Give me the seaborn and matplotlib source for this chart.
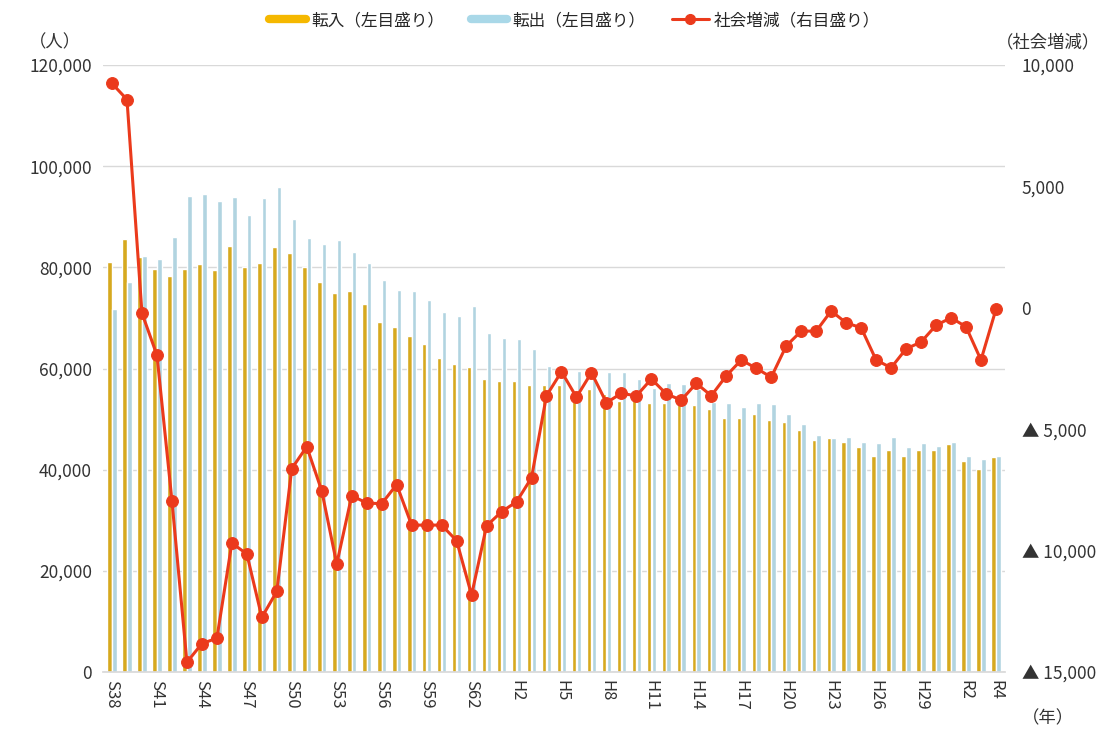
import numpy as np
import pandas as pd
import matplotlib
matplotlib.use("Agg")
import matplotlib.pyplot as plt
from matplotlib.lines import Line2D
from matplotlib.ticker import FuncFormatter
import seaborn as sns

# 年度ラベル (S38 = 1963 ... R4 = 2022)
years = (["S%d" % n for n in range(38, 64)]
         + ["H%d" % n for n in range(1, 31)]
         + ["R%d" % n for n in range(1, 5)])

shown_ticks = ["S38", "S41", "S44", "S47", "S50", "S53", "S56", "S59", "S62",
               "H2", "H5", "H8", "H11", "H14", "H17", "H20", "H23", "H26",
               "H29", "R2", "R4"]

# 転入 (左目盛り)
transfer_in = [81100, 85600, 82000, 79700, 78300, 79700, 80700, 79400, 84200, 80100,
               80900, 84100, 82900, 80100, 77100, 74900, 75300, 72700, 69200, 68200,
               66400, 64800, 62100, 60800, 60200, 58000, 57600, 57600, 56700, 56700,
               56700, 55500, 55900, 55000, 53600, 53800, 53200, 53200, 52900, 52800,
               51900, 50200, 50200, 51000, 49900, 49400, 47800, 45900, 46200, 45500,
               44500, 42800, 43900, 42800, 43800, 43800, 45000, 41800, 40100, 42600]

# 転出 (左目盛り)
transfer_out = [71800, 77100, 82300, 81700, 86000, 94200, 94600, 93200, 94000, 90400,
                93700, 95800, 89500, 85900, 84600, 85500, 83000, 80900, 77500, 75500,
                75300, 73600, 71200, 70400, 72400, 67100, 66000, 65800, 63900, 60400,
                59400, 59500, 58600, 59300, 59400, 57900, 56200, 57100, 57000, 55900,
                53400, 53200, 52400, 53200, 53000, 51000, 49000, 46900, 46200, 46500,
                45500, 45200, 46500, 44400, 45300, 44700, 45400, 42700, 42200, 42700]

# 社会増減 (右目盛り)
social = [9240, 8580, -220, -1950, -7940, -14600, -13830, -13610, -9690, -10140,
          -12750, -11680, -6620, -5720, -7540, -10550, -7740, -8040, -8070, -7280,
          -8950, -8950, -8950, -9590, -11830, -8980, -8400, -7990, -7000, -3620,
          -2630, -3680, -2670, -3910, -3520, -3630, -2930, -3550, -3800, -3110,
          -3620, -2800, -2150, -2490, -2860, -1570, -960, -960, -130, -620,
          -820, -2150, -2470, -1690, -1410, -720, -410, -780, -2150, -60]

YELLOW = "#F5B800"
BLUE = "#A9D8E8"
RED = "#EB3A1C"

bars = pd.DataFrame({
    "year": years * 2,
    "kind": ["転入"] * len(years) + ["転出"] * len(years),
    "value": transfer_in + transfer_out,
})

sns.set_theme(style="white")
plt.rcParams["font.family"] = ["Noto Sans CJK JP", "DejaVu Sans"]

fig = plt.figure(figsize=(11.16, 7.34), dpi=100)
ax = fig.add_axes([0.0923, 0.0845, 0.8082, 0.8269])

sns.barplot(
    data=bars, x="year", y="value", hue="kind",
    order=years, hue_order=["転入", "転出"],
    palette=[YELLOW, BLUE], width=0.64, gap=0.06,
    errorbar=None, legend=False, ax=ax, zorder=2
)

ax.set_ylim(0, 120000)
ax.set_yticks(range(0, 120001, 20000))
ax.yaxis.set_major_formatter(FuncFormatter(lambda v, p: f"{int(v):,}"))
ax.yaxis.grid(True, color="#d9d9d9", linewidth=1)
ax.set_axisbelow(True)
ax.set_xlabel("")
ax.set_ylabel("")
ax.set_xticks(range(len(years)))
ax.set_xticklabels([y if y in shown_ticks else "" for y in years],
                   rotation=270, fontsize=12, color="#333333")
ax.tick_params(axis="y", labelsize=12.5, colors="#333333", length=0, pad=8)
ax.tick_params(axis="x", length=0, pad=6)
for s in ["top", "right", "left"]:
    ax.spines[s].set_visible(False)
ax.spines["bottom"].set_color("#d9d9d9")

# 右軸: 社会増減
ax2 = ax.twinx()
sns.lineplot(x=np.arange(len(years)), y=social, ax=ax2, color=RED,
             linewidth=2.2, marker="o", markersize=8.5,
             markeredgecolor=RED, markerfacecolor=RED)
ax2.set_ylim(-15000, 10000)
ax2.set_yticks(range(-15000, 10001, 5000))
ax2.yaxis.set_major_formatter(
    FuncFormatter(lambda v, p: f"▲ {abs(int(v)):,}" if v < 0 else f"{int(v):,}"))
ax2.tick_params(axis="y", labelsize=12.5, colors="#333333", length=0, pad=12)
for s in ["top", "right", "left", "bottom"]:
    ax2.spines[s].set_visible(False)

ax.set_xlim(-0.6, len(years) - 0.4)

# 単位ラベル
fig.text(55 / 1116, 1 - 42 / 734, "（人）", ha="center", va="center",
         fontsize=12.5, color="#333333")
fig.text(1048 / 1116, 1 - 42 / 734, "（社会増減）", ha="center", va="center",
         fontsize=12.5, color="#333333")
fig.text(1048 / 1116, 1 - 718 / 734, "（年）", ha="center", va="center",
         fontsize=12.5, color="#333333")

handles = [
    Line2D([], [], color=YELLOW, linewidth=6),
    Line2D([], [], color=BLUE, linewidth=6),
    Line2D([], [], color=RED, linewidth=2.2, marker="o", markersize=7),
]
fig.legend(handles, ["転入（左目盛り）", "転出（左目盛り）", "社会増減（右目盛り）"],
           loc="center", bbox_to_anchor=(0.515, 0.972), ncol=3, frameon=False,
           fontsize=12, handlelength=2.2, columnspacing=1.6, handletextpad=0.3)

fig.savefig("out.png", dpi=100)
